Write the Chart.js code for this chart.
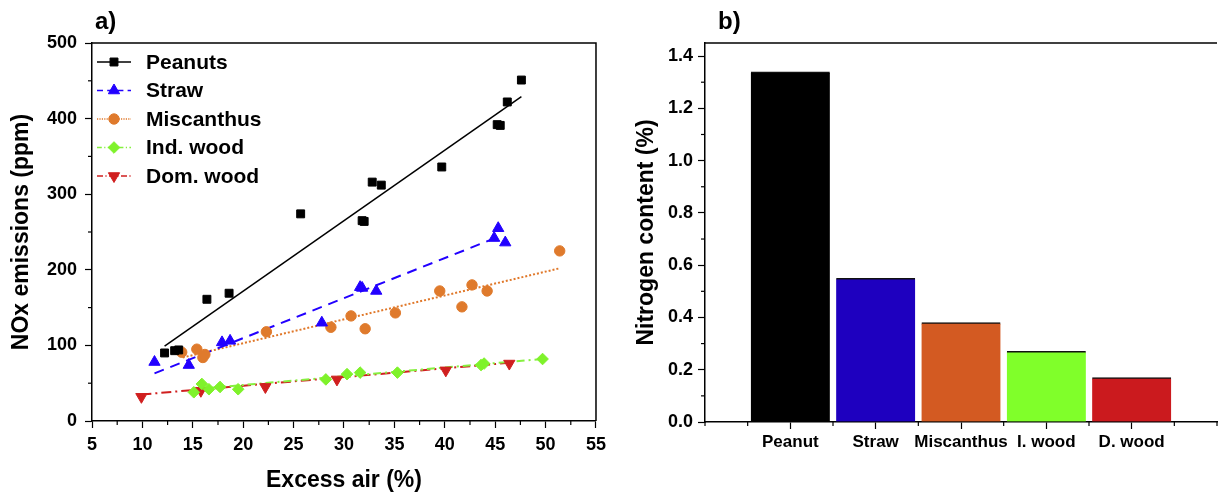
<!DOCTYPE html>
<html>
<head>
<meta charset="utf-8">
<script src="https://cdn.jsdelivr.net/npm/chart.js@4.4.0/dist/chart.umd.min.js"></script>
<style>
  html, body { margin: 0; padding: 0; background: #fff; }
  #a { position: absolute; left: 0; top: 0; }
  #b { position: absolute; left: 612px; top: 0; }
</style>
</head>
<body>
<canvas id="a" width="612" height="492"></canvas>
<canvas id="b" width="608" height="492"></canvas>
<script>
// ---- data ----
// a) NOx emissions vs excess air
const peanutsX = [12.2, 13.2, 13.6, 16.4, 18.6, 25.7, 31.8, 32.0, 32.8, 33.7, 39.7, 45.2, 45.5, 46.2, 47.6];
const peanutsY = [90, 93, 94, 161, 169, 274, 265, 264, 316, 312, 336, 392, 391, 422, 451];
const strawX = [11.2, 14.6, 17.9, 18.7, 27.8, 31.6, 31.8, 33.2, 44.9, 45.3, 46.0];
const strawY = [78, 74, 104, 106, 130, 177, 176, 172, 242, 255, 236];
const miscX = [13.9, 15.4, 16.0, 16.2, 22.3, 28.7, 30.7, 32.1, 35.1, 39.5, 41.7, 42.7, 44.2, 51.4];
const miscY = [91, 95, 84, 88, 118, 124, 139, 122, 143, 172, 151, 180, 172, 225];
const indX = [15.1, 15.9, 16.6, 17.7, 19.5, 28.2, 30.3, 31.6, 35.3, 43.6, 43.9, 49.7];
const indY = [38, 49, 42, 45, 42, 55, 62, 64, 64, 74, 76, 82];
const domX = [9.9, 15.8, 22.2, 29.3, 40.1, 46.4];
const domY = [32, 40, 45, 55, 67, 76];

// linear fits (end points as drawn)
const peanutsFitX = [12.2, 47.6], peanutsFitY = [99, 429];
const strawFitX = [11.2, 45.0], strawFitY = [63, 242];
const miscFitX = [14.0, 51.4], miscFitY = [84, 202];
const indFitX = [15.1, 49.7], indFitY = [42, 82];
const domFitX = [9.9, 46.4], domFitY = [35, 77];

// b) nitrogen content
const barLabels = ['Peanut', 'Straw', 'Miscanthus', 'I. wood', 'D. wood'];
const nitrogen = [1.34, 0.55, 0.38, 0.27, 0.17];

// ---- styles ----
const FONT = '"Liberation Sans", Arial, Helvetica, sans-serif';
Chart.defaults.font.family = FONT;
Chart.defaults.font.weight = 'bold';
Chart.defaults.color = '#000';

const series = [
  { label: 'Peanuts', xs: peanutsX, ys: peanutsY, fx: peanutsFitX, fy: peanutsFitY,
    color: '#000000', lineColor: '#000000', style: 'rect', radius: 5.6, rotation: 0, dash: [], width: 1.5 },
  { label: 'Straw', xs: strawX, ys: strawY, fx: strawFitX, fy: strawFitY,
    color: '#2200ff', lineColor: '#2200ff', style: 'triangle', radius: 6.5, rotation: 0, dash: [10, 7], width: 2 },
  { label: 'Miscanthus', xs: miscX, ys: miscY, fx: miscFitX, fy: miscFitY,
    color: '#df7a2c', lineColor: '#e0782a', style: 'circle', radius: 5.2, rotation: 0, dash: [2, 2], width: 2 },
  { label: 'Ind. wood', xs: indX, ys: indY, fx: indFitX, fy: indFitY,
    color: '#7ff22b', lineColor: '#86f040', style: 'rectRot', radius: 5.8, rotation: 0, dash: [8, 4, 2, 4], width: 2 },
  { label: 'Dom. wood', xs: domX, ys: domY, fx: domFitX, fy: domFitY,
    color: '#d01f1f', lineColor: '#d01f1f', style: 'triangle', radius: 6.5, rotation: 180, dash: [10, 4, 2, 4], width: 2 }
];
const barColors = ['#000000', '#1e00bf', '#d35a22', '#80ff2a', '#cb1a1e'];

function pairs(xs, ys) {
  return xs.map((x, i) => ({ x: x, y: ys[i] }));
}

// hide chart.js ticks for unlabelled values, they get short ticks from the plugin
function tickColor(c) {
  return c.tick && c.tick.label === '' ? 'rgba(0,0,0,0)' : '#000';
}

const framePlugin = {
  id: 'frame',
  afterDraw(chart, args, opts) {
    const ctx = chart.ctx;
    const a = chart.chartArea;
    ctx.save();
    ctx.strokeStyle = '#000';
    ctx.lineWidth = 1.5;
    ctx.beginPath();
    ctx.moveTo(a.left, a.top);
    ctx.lineTo(a.right, a.top);
    if (opts.right) ctx.lineTo(a.right, a.bottom);
    ctx.stroke();

    // minor ticks
    ctx.lineWidth = 1.2;
    ['x', 'y'].forEach(id => {
      const s = chart.scales[id];
      s.ticks.forEach(t => {
        if (t.label !== '') return;
        const p = s.getPixelForValue(t.value);
        ctx.beginPath();
        if (id === 'x') { ctx.moveTo(p, s.top); ctx.lineTo(p, s.top + 4); }
        else { ctx.moveTo(s.right, p); ctx.lineTo(s.right - 4, p); }
        ctx.stroke();
      });
    });

    // panel letter
    ctx.fillStyle = '#000';
    ctx.font = 'bold 24px ' + FONT;
    ctx.textBaseline = 'middle';
    ctx.textAlign = 'left';
    ctx.fillText(opts.letter, opts.letterX, 22);
    ctx.restore();
  }
};

const legendPlugin = {
  id: 'lineLegend',
  afterDraw(chart) {
    const ctx = chart.ctx;
    const a = chart.chartArea;
    ctx.save();
    series.forEach((s, i) => {
      const y = a.top + 19 + i * 28.5;
      ctx.strokeStyle = s.lineColor;
      ctx.lineWidth = 1.5;
      ctx.setLineDash(s.dash.length ? s.dash.map(d => d * 0.6) : []);
      ctx.beginPath();
      ctx.moveTo(a.left + 5, y);
      ctx.lineTo(a.left + 39, y);
      ctx.stroke();
      ctx.setLineDash([]);
      ctx.fillStyle = s.color;
      ctx.strokeStyle = s.color;
      ctx.lineWidth = 1;
      Chart.helpers.drawPoint(ctx, { pointStyle: s.style, radius: s.radius, rotation: s.rotation, borderWidth: 1 }, a.left + 22, y);
      ctx.fillStyle = '#000';
      ctx.font = 'bold 21px ' + FONT;
      ctx.textBaseline = 'middle';
      ctx.textAlign = 'left';
      ctx.fillText(s.label, a.left + 54, y + 1);
    });
    ctx.restore();
  }
};

// ---- a) scatter with fits ----
const scatterSets = series.map(s => ({
  label: s.label,
  data: pairs(s.xs, s.ys),
  pointStyle: s.style,
  pointRadius: s.radius,
  pointRotation: s.rotation,
  pointBackgroundColor: s.color,
  pointBorderColor: s.color,
  pointBorderWidth: 1,
  showLine: false
}));
const fitSets = series.map(s => ({
  label: s.label + ' fit',
  data: pairs(s.fx, s.fy),
  showLine: true,
  pointRadius: 0,
  borderColor: s.lineColor,
  borderWidth: s.width,
  borderDash: s.dash,
  fill: false
}));

new Chart(document.getElementById('a'), {
  type: 'scatter',
  data: { datasets: scatterSets.concat(fitSets) },
  options: {
    responsive: false,
    animation: false,
    layout: { padding: { top: 43, right: 5, left: 0, bottom: 0 } },
    plugins: {
      legend: { display: false },
      tooltip: { enabled: false },
      frame: { letter: 'a)', letterX: 95, right: true }
    },
    scales: {
      x: {
        type: 'linear', min: 5, max: 55,
        ticks: {
          stepSize: 2.5, autoSkip: false, maxRotation: 0, padding: 6,
          font: { size: 18 },
          callback: v => (v % 5 === 0 ? String(v) : '')
        },
        grid: { drawOnChartArea: false, tickLength: 7, tickWidth: 1.2, tickColor: tickColor },
        border: { color: '#000', width: 1.5 },
        title: { display: true, text: 'Excess air (%)', font: { size: 23, lineHeight: 1 }, padding: { top: 0, bottom: 0 } },
        afterFit(s) { s.height = 71; }
      },
      y: {
        min: 0, max: 500,
        ticks: {
          stepSize: 50, autoSkip: false, padding: 8,
          font: { size: 18 },
          callback: v => (v % 100 === 0 ? String(v) : '')
        },
        grid: { drawOnChartArea: false, tickLength: 7, tickWidth: 1.2, tickColor: tickColor },
        border: { color: '#000', width: 1.5 },
        title: { display: true, text: 'NOx emissions (ppm)', font: { size: 23, lineHeight: 1 }, padding: { top: 10, bottom: 0 } },
        afterFit(s) { s.width = 92; }
      }
    }
  },
  plugins: [framePlugin, legendPlugin]
});

// ---- b) nitrogen content bars ----
new Chart(document.getElementById('b'), {
  type: 'bar',
  data: {
    datasets: [{
      data: pairs(barLabels.map((l, i) => i), nitrogen),
      backgroundColor: barColors,
      borderColor: '#111',
      borderWidth: { top: 1.5, left: 0, right: 0, bottom: 0 },
      borderSkipped: false,
      barThickness: 79
    }]
  },
  options: {
    responsive: false,
    animation: false,
    layout: { padding: { top: 43, right: 0, left: 0, bottom: 0 } },
    plugins: {
      legend: { display: false },
      tooltip: { enabled: false },
      frame: { letter: 'b)', letterX: 106, right: false }
    },
    scales: {
      x: {
        type: 'linear', min: -1, max: 5, offset: false,
        ticks: {
          stepSize: 0.5, autoSkip: false, maxRotation: 0, padding: 3,
          font: { size: 17 },
          callback: v => (Number.isInteger(v) && v >= 0 && v < barLabels.length ? barLabels[v] : '')
        },
        grid: { offset: false, drawOnChartArea: false, tickLength: 7, tickWidth: 1.2, tickColor: tickColor },
        border: { color: '#000', width: 1.5 },
        afterFit(s) { s.height = 70; }
      },
      y: {
        min: 0, max: 1.45,
        ticks: {
          stepSize: 0.1, autoSkip: false, includeBounds: false, padding: 5,
          font: { size: 18 },
          callback: v => {
            const k = Math.round(v * 10);
            return k % 2 === 0 ? (k / 10).toFixed(1) : '';
          }
        },
        grid: { drawOnChartArea: false, tickLength: 7, tickWidth: 1.2, tickColor: tickColor },
        border: { color: '#000', width: 1.5 },
        title: { display: true, text: 'Nitrogen content (%)', font: { size: 23, lineHeight: 1 }, padding: { top: 23, bottom: 0 } },
        afterFit(s) { s.width = 93; }
      }
    }
  },
  plugins: [framePlugin]
});
</script>
</body>
</html>
